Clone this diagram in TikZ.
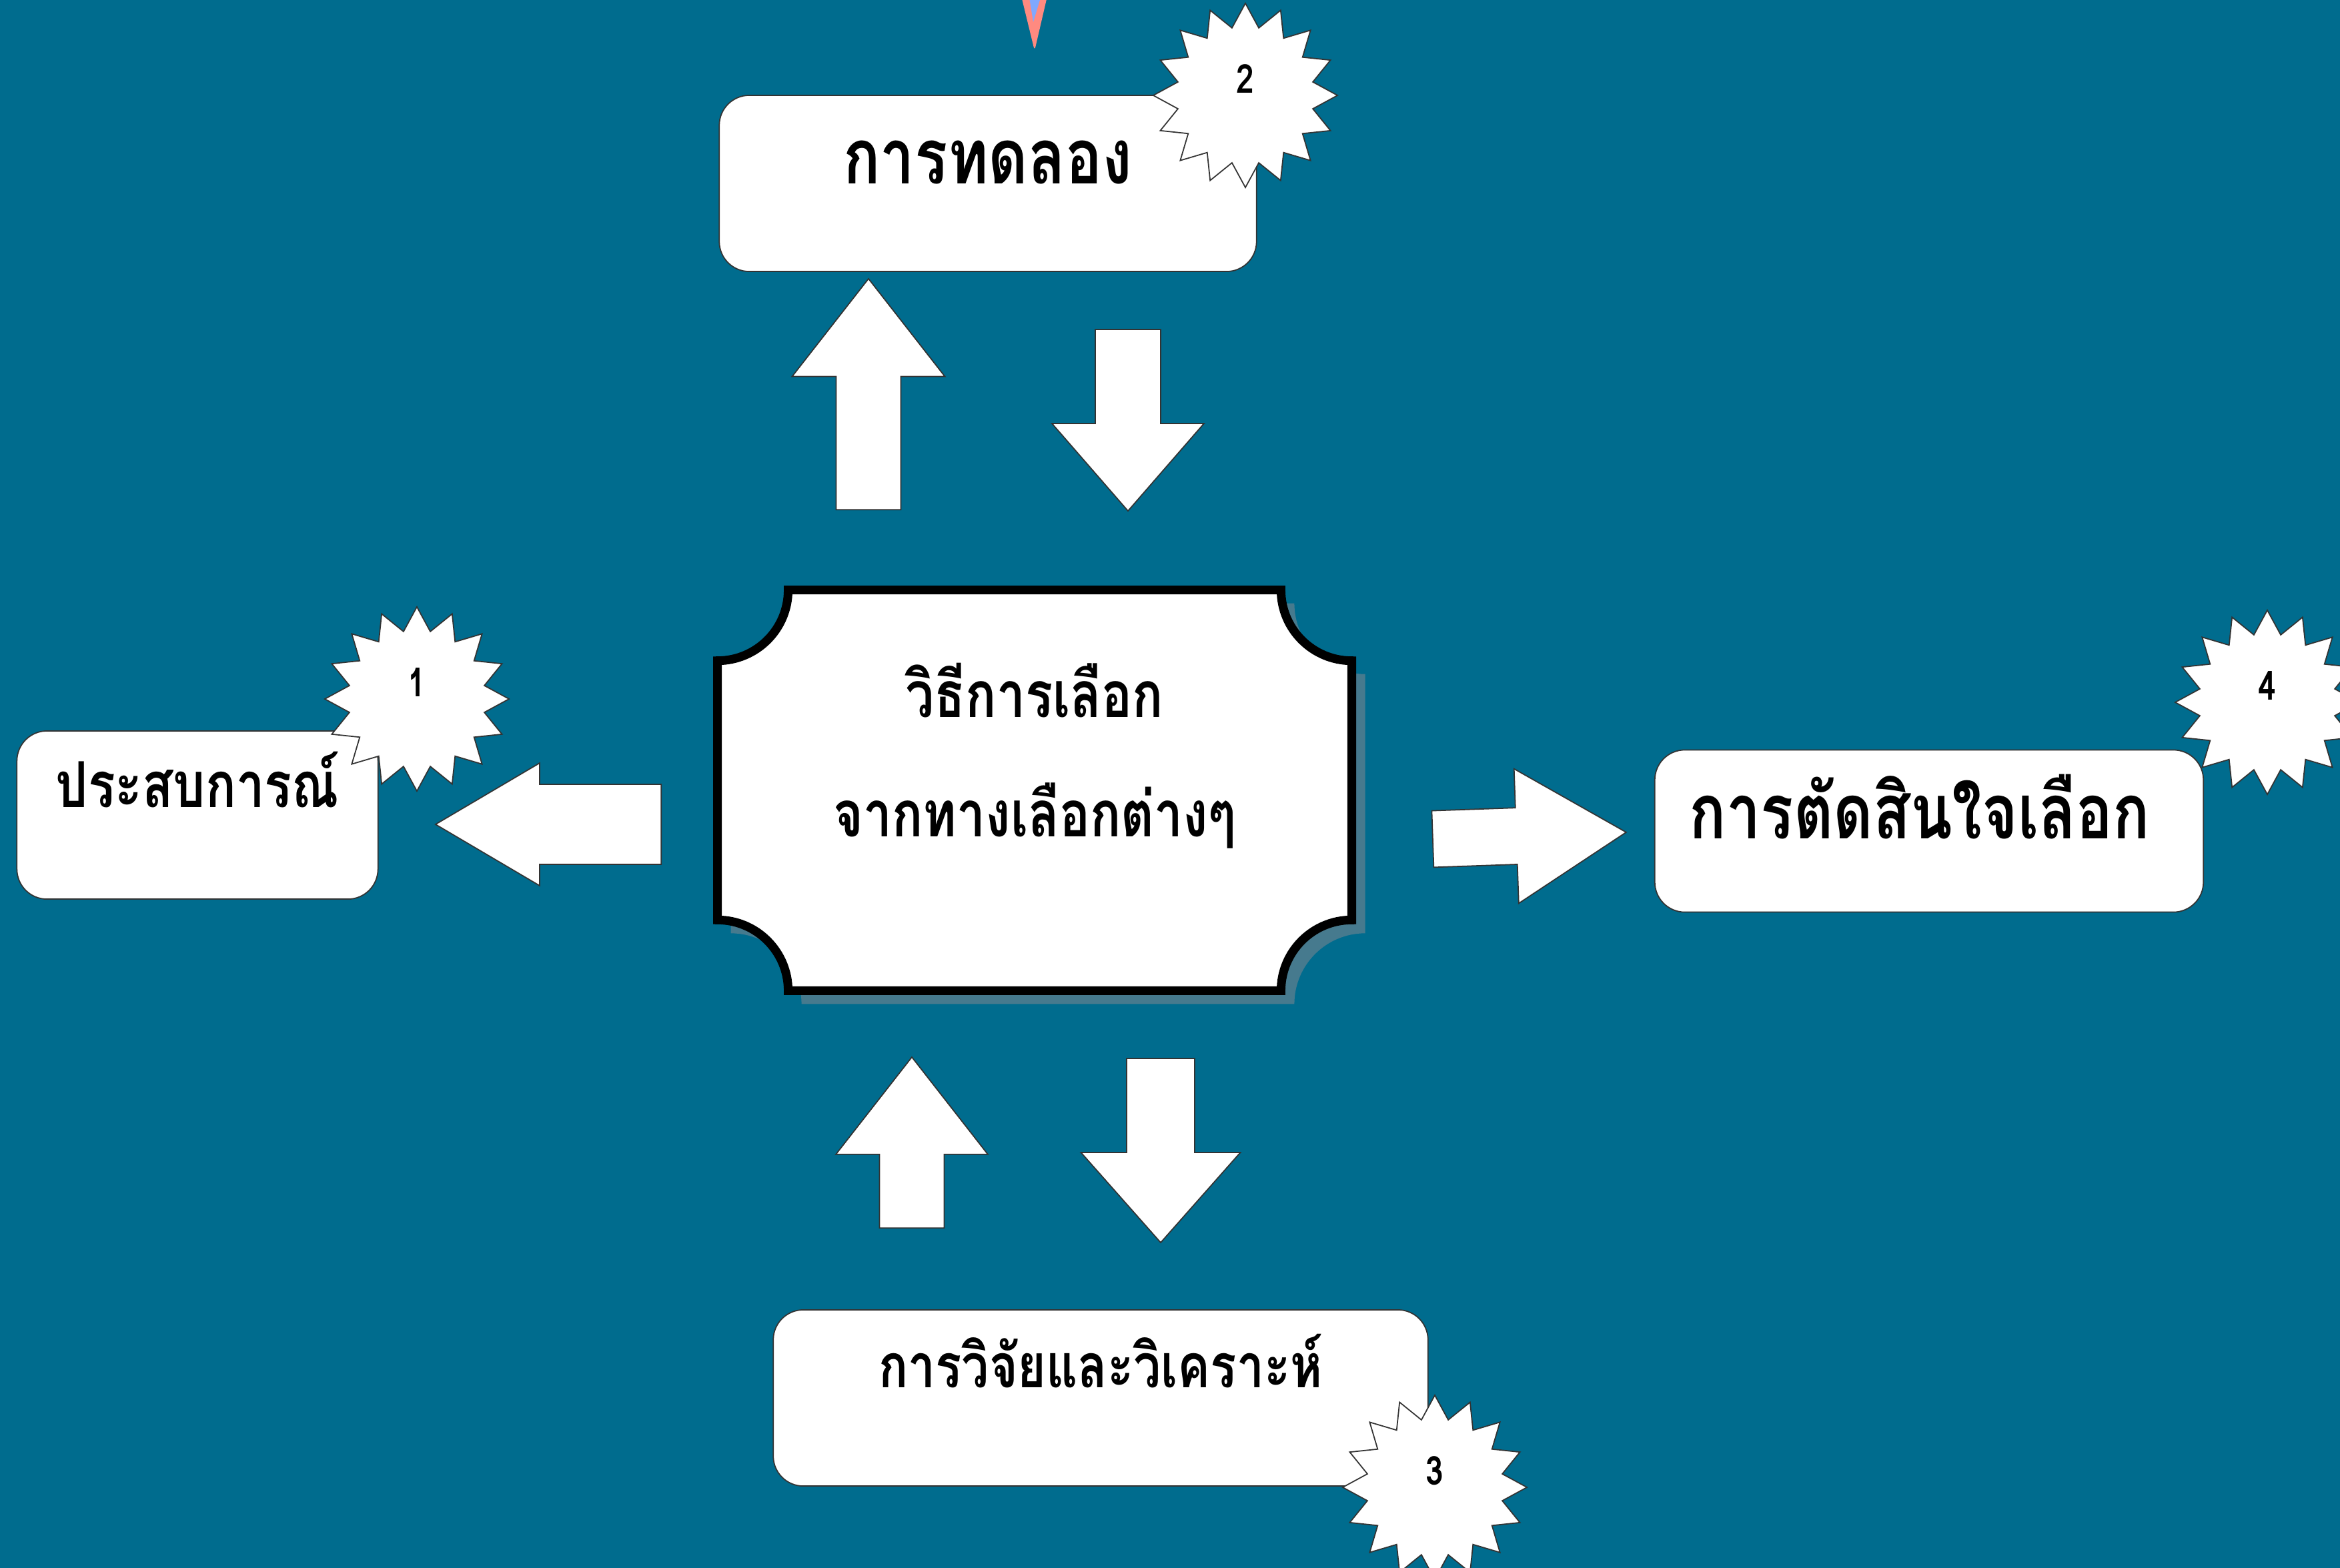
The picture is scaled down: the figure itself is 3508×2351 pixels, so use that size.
\documentclass[tikz,border=0pt]{standalone}
\usepackage{fontspec}
\newfontfamily\thaifont[Script=Thai,FakeStretch=0.8]{Loma}
\usetikzlibrary{shapes.geometric,shapes.arrows,calc,positioning}
\definecolor{seablue}{RGB}{0,108,142}
\definecolor{shadowgray}{RGB}{70,122,142}
\definecolor{pinkmark}{RGB}{255,138,128}
\definecolor{bluemark}{RGB}{128,168,255}

\begin{document}
\begin{tikzpicture}[
    x=0.01cm, y=-0.01cm,
    stepbox/.style={rectangle, draw=black!80, fill=white, rounded corners=0.45cm, line width=0.5pt,
                    inner sep=0pt, text height=0.5cm, text depth=0.5cm},
    burst/.style={star, star points=16, star point ratio=1.34, minimum size=2.76cm, draw=black!80,
                  fill=white, line width=0.5pt, inner sep=0pt, text depth=0.5cm,
                  font=\thaifont\bfseries\fontsize{17}{20}\selectfont},
    bigarrow/.style={single arrow, draw=black!80, fill=white, line width=0.5pt, anchor=tail},
    plaque/.style={rectangle, minimum width=9.49cm, minimum height=5.99cm, inner sep=0pt},
    shadowlook/.style={fill=shadowgray},
    framelook/.style={fill=white, draw=black, line width=3.7pt},
    choicetext/.style={font=\thaifont\bfseries\fontsize{27.3}{32}\selectfont, inner sep=0pt, anchor=base}
]
\useasboundingbox (0,0) rectangle (3508,2351);
\clip (0,0) rectangle (3508,2351);
\fill[seablue] (0,0) rectangle (3508,2351);

\fill[pinkmark, rounded corners=0.06cm] (1530,-10) -- (1571,-10) -- (1551,76) -- cycle;
\fill[bluemark] (1542,-10) -- (1562,-10) -- (1549,33) -- cycle;

\node[plaque] (choiceshadow) at (1571,1205) {};
\node[plaque] (choice) at (1551,1185) {};
\foreach \nd/\look in {choiceshadow/shadowlook, choice/framelook}
  \path[\look] ($(\nd.north west)+(0cm,-1.06cm)$) arc[start angle=-90, end angle=0, radius=1.06cm]
    -- ($(\nd.north east)+(-1.06cm,0cm)$) arc[start angle=180, end angle=270, radius=1.06cm]
    -- ($(\nd.south east)+(0cm,1.06cm)$) arc[start angle=90, end angle=180, radius=1.06cm]
    -- ($(\nd.south west)+(1.06cm,0cm)$) arc[start angle=0, end angle=90, radius=1.06cm]
    -- cycle;
\node[choicetext] (choicetop) at (1551,1075) {วิธีการเลือก};
\node[choicetext] (choicebottom) at (1551,1254) {จากทางเลือกต่างๆ};

\node[stepbox, minimum width=8.05cm, minimum height=2.64cm,
      font=\thaifont\bfseries\fontsize{32.7}{38}\selectfont] (trial) at (1481,275) {การทดลอง};
\node[stepbox, minimum width=5.41cm, minimum height=2.52cm, text depth=0.74cm,
      font=\thaifont\bfseries\fontsize{27}{32}\selectfont] (exp) at (296,1222) {ประสบการณ์};
\node[stepbox, minimum width=9.81cm, minimum height=2.64cm, text depth=0.82cm,
      font=\thaifont\bfseries\fontsize{26}{31}\selectfont] (research) at (1650,2096) {การวิจัยและวิเคราะห์};
\node[stepbox, minimum width=8.22cm, minimum height=2.43cm, text height=0.6cm, text depth=0.38cm,
      font=\thaifont\bfseries\fontsize{32.6}{38}\selectfont] (decide) at (2892,1246) {การตัดสินใจเลือก\kern0.28cm};

\node[burst] (burst1) at (625,1048) {1};
\node[burst] (burst2) at (1867,143) {2};
\node[burst] (burst3) at (2151,2230) {3};
\node[burst] (burst4) at (3399,1053) {4};

\node[bigarrow, rotate=90, minimum height=3.46cm, inner sep=0.475cm,
      single arrow head extend=0.66cm, single arrow tip angle=76] (uptrial) at (1302,765) {};
\node[bigarrow, rotate=-90, minimum height=2.72cm, inner sep=0.48cm,
      single arrow head extend=0.65cm, single arrow tip angle=82] (downtrial) at (1691,493) {};
\node[bigarrow, rotate=90, minimum height=2.56cm, inner sep=0.475cm,
      single arrow head extend=0.655cm, single arrow tip angle=76] (upresearch) at (1367,1842) {};
\node[bigarrow, rotate=-90, minimum height=2.76cm, inner sep=0.5cm,
      single arrow head extend=0.685cm, single arrow tip angle=83] (downresearch) at (1740,1586) {};
\node[bigarrow, rotate=180, minimum height=3.38cm, inner sep=0.59cm,
      single arrow head extend=0.32cm, single arrow tip angle=61] (toexp) at (992,1236) {};
\node[bigarrow, rotate=2, minimum height=2.90cm, inner sep=0.415cm,
      single arrow head extend=0.585cm, single arrow tip angle=63] (todecide) at (2147,1258) {};

\end{tikzpicture}
\end{document}
